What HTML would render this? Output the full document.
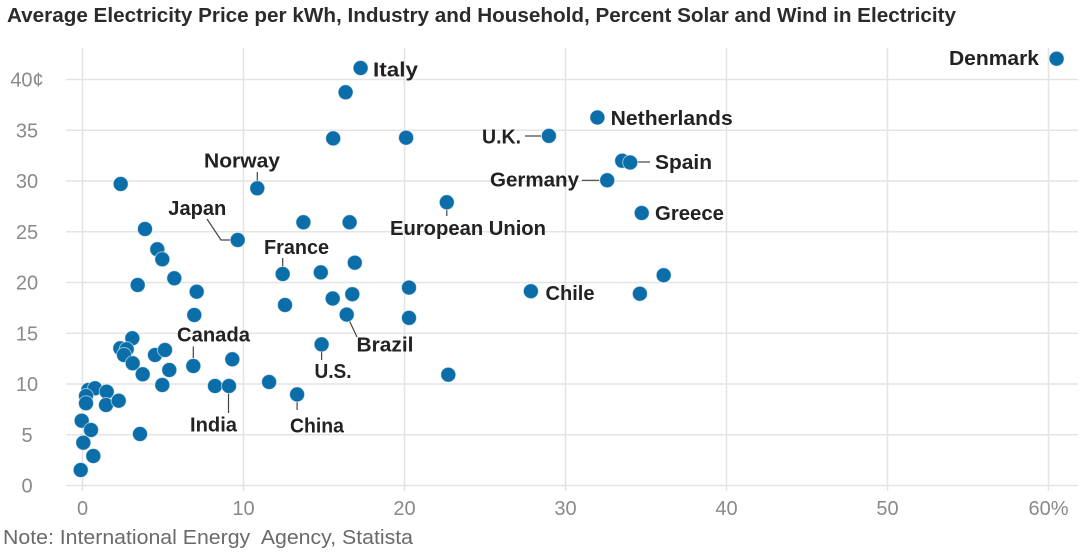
<!DOCTYPE html>
<html>
<head>
<meta charset="utf-8">
<style>
html,body{margin:0;padding:0;background:#fff;}
svg{display:block;}
text{font-family:"Liberation Sans",Arial,sans-serif;}
.t{font-size:20px;font-weight:bold;fill:#2b2b2b;}
.lb{font-size:20px;font-weight:bold;fill:#222;}
.tk{font-size:20px;fill:#8a8a8a;}
.nt{font-size:20px;fill:#6a6a6a;}
.g line{stroke:#e4e4e4;stroke-width:1.5;}
.d circle{fill:#0b6ea9;stroke:#ffffff;stroke-opacity:0.55;stroke-width:1;}
.ld{stroke:#444;stroke-width:1.2;fill:none;}
</style>
</head>
<body>
<svg width="1092" height="554" viewBox="0 0 1092 554" xmlns="http://www.w3.org/2000/svg">
<rect width="1092" height="554" fill="#fff"/>
<text class="t" x="7" y="22" textLength="949" lengthAdjust="spacingAndGlyphs">Average Electricity Price per kWh, Industry and Household, Percent Solar and Wind in Electricity</text>

<g class="g">
<line x1="66" y1="79.5" x2="1078" y2="79.5"/>
<line x1="66" y1="130.3" x2="1078" y2="130.3"/>
<line x1="66" y1="181" x2="1078" y2="181"/>
<line x1="66" y1="231.8" x2="1078" y2="231.8"/>
<line x1="66" y1="282.5" x2="1078" y2="282.5"/>
<line x1="66" y1="333.3" x2="1078" y2="333.3"/>
<line x1="66" y1="384" x2="1078" y2="384"/>
<line x1="66" y1="434.8" x2="1078" y2="434.8"/>
<line x1="66" y1="485.5" x2="1078" y2="485.5"/>
<line x1="82.5" y1="48" x2="82.5" y2="491"/>
<line x1="243.5" y1="48" x2="243.5" y2="491"/>
<line x1="404.5" y1="48" x2="404.5" y2="491"/>
<line x1="565.5" y1="48" x2="565.5" y2="491"/>
<line x1="726.5" y1="48" x2="726.5" y2="491"/>
<line x1="887.5" y1="48" x2="887.5" y2="491"/>
<line x1="1048.5" y1="48" x2="1048.5" y2="491"/>
</g>

<g text-anchor="middle">
<text class="tk" x="27" y="86.5">40¢</text>
<text class="tk" x="27" y="137.3">35</text>
<text class="tk" x="27" y="188">30</text>
<text class="tk" x="27" y="238.8">25</text>
<text class="tk" x="27" y="289.5">20</text>
<text class="tk" x="27" y="340.3">15</text>
<text class="tk" x="27" y="391">10</text>
<text class="tk" x="27" y="441.8">5</text>
<text class="tk" x="27" y="492.5">0</text>
<text class="tk" x="82.5" y="515">0</text>
<text class="tk" x="243.5" y="515">10</text>
<text class="tk" x="404.5" y="515">20</text>
<text class="tk" x="565.5" y="515">30</text>
<text class="tk" x="726.5" y="515">40</text>
<text class="tk" x="887.5" y="515">50</text>
<text class="tk" x="1048.5" y="515">60%</text>
</g>

<text class="nt" x="3" y="544" textLength="410" lengthAdjust="spacingAndGlyphs" style="white-space:pre">Note: International Energy  Agency, Statista</text>

<!-- leader lines -->
<line class="ld" x1="257.3" y1="172" x2="257.3" y2="181"/>
<polyline class="ld" points="207,219 221,240 231,240"/>
<line class="ld" x1="446.8" y1="209" x2="446.8" y2="216"/>
<line class="ld" x1="282.7" y1="258" x2="282.7" y2="267"/>
<line class="ld" x1="193.3" y1="346.5" x2="193.3" y2="358"/>
<line class="ld" x1="228.5" y1="393" x2="228.5" y2="413"/>
<line class="ld" x1="297.1" y1="401" x2="297.1" y2="410"/>
<line class="ld" x1="321.6" y1="351" x2="321.6" y2="360"/>
<line class="ld" x1="349" y1="320" x2="357" y2="337"/>
<line class="ld" x1="525" y1="136" x2="541" y2="136"/>
<line class="ld" x1="637" y1="162" x2="650" y2="162"/>
<line class="ld" x1="582" y1="180.3" x2="599" y2="180.3"/>

<g class="d">
<circle cx="120.7" cy="184" r="7.5"/>
<circle cx="257.3" cy="188.3" r="7.5"/>
<circle cx="145" cy="229" r="7.5"/>
<circle cx="157.3" cy="249.3" r="7.5"/>
<circle cx="162.3" cy="259.3" r="7.5"/>
<circle cx="137.7" cy="285" r="7.5"/>
<circle cx="174.3" cy="278.3" r="7.5"/>
<circle cx="196.7" cy="291.7" r="7.5"/>
<circle cx="194.3" cy="315" r="7.5"/>
<circle cx="237.7" cy="240" r="7.5"/>
<circle cx="282.7" cy="274" r="7.5"/>
<circle cx="285" cy="305" r="7.5"/>
<circle cx="303.4" cy="222.3" r="7.5"/>
<circle cx="132.3" cy="338.3" r="7.5"/>
<circle cx="120.3" cy="348.3" r="7.5"/>
<circle cx="126.7" cy="349.3" r="7.5"/>
<circle cx="124" cy="355" r="7.5"/>
<circle cx="132.7" cy="363.3" r="7.5"/>
<circle cx="142.7" cy="374.3" r="7.5"/>
<circle cx="155" cy="355" r="7.5"/>
<circle cx="165" cy="350" r="7.5"/>
<circle cx="169.3" cy="370" r="7.5"/>
<circle cx="162.3" cy="385" r="7.5"/>
<circle cx="193.3" cy="366" r="7.5"/>
<circle cx="232.3" cy="359.3" r="7.5"/>
<circle cx="215" cy="386" r="7.5"/>
<circle cx="229" cy="386" r="7.5"/>
<circle cx="88.3" cy="390" r="7.5"/>
<circle cx="95" cy="388.3" r="7.5"/>
<circle cx="86" cy="396" r="7.5"/>
<circle cx="106.7" cy="391.7" r="7.5"/>
<circle cx="106" cy="405" r="7.5"/>
<circle cx="118.7" cy="400.7" r="7.5"/>
<circle cx="86" cy="403.3" r="7.5"/>
<circle cx="81.7" cy="420.7" r="7.5"/>
<circle cx="91" cy="430" r="7.5"/>
<circle cx="83.3" cy="442.7" r="7.5"/>
<circle cx="93.3" cy="456" r="7.5"/>
<circle cx="80.7" cy="470" r="7.5"/>
<circle cx="140" cy="434" r="7.5"/>
<circle cx="360.6" cy="68" r="7.5"/>
<circle cx="345.6" cy="92.3" r="7.5"/>
<circle cx="333.2" cy="138.4" r="7.5"/>
<circle cx="406.1" cy="137.7" r="7.5"/>
<circle cx="349.6" cy="222.3" r="7.5"/>
<circle cx="446.8" cy="202.3" r="7.5"/>
<circle cx="320.8" cy="272.4" r="7.5"/>
<circle cx="354.8" cy="262.7" r="7.5"/>
<circle cx="332.7" cy="298.5" r="7.5"/>
<circle cx="352.3" cy="294.2" r="7.5"/>
<circle cx="346.7" cy="314.6" r="7.5"/>
<circle cx="409" cy="287.6" r="7.5"/>
<circle cx="409" cy="317.9" r="7.5"/>
<circle cx="530.9" cy="291.2" r="7.5"/>
<circle cx="663.7" cy="275.2" r="7.5"/>
<circle cx="639.9" cy="293.7" r="7.5"/>
<circle cx="448.3" cy="374.7" r="7.5"/>
<circle cx="321.6" cy="344.4" r="7.5"/>
<circle cx="269.1" cy="382" r="7.5"/>
<circle cx="297.1" cy="394.4" r="7.5"/>
<circle cx="1056.6" cy="58.7" r="7.5"/>
<circle cx="597.4" cy="117.5" r="7.5"/>
<circle cx="548.9" cy="135.9" r="7.5"/>
<circle cx="622.2" cy="160.8" r="7.5"/>
<circle cx="630.2" cy="162.5" r="7.5"/>
<circle cx="607.2" cy="180.3" r="7.5"/>
<circle cx="641.7" cy="213" r="7.5"/>
</g>

<g>
<text class="lb" x="373" y="76.5" textLength="45" lengthAdjust="spacingAndGlyphs">Italy</text>
<text class="lb" x="204" y="167.5" textLength="76" lengthAdjust="spacingAndGlyphs">Norway</text>
<text class="lb" x="168.3" y="215" textLength="58" lengthAdjust="spacingAndGlyphs">Japan</text>
<text class="lb" x="390" y="235" textLength="156" lengthAdjust="spacingAndGlyphs">European Union</text>
<text class="lb" x="264" y="254" textLength="65" lengthAdjust="spacingAndGlyphs">France</text>
<text class="lb" x="177" y="341.7" textLength="73" lengthAdjust="spacingAndGlyphs">Canada</text>
<text class="lb" x="190" y="431.7" textLength="47" lengthAdjust="spacingAndGlyphs">India</text>
<text class="lb" x="290" y="432.5" textLength="54" lengthAdjust="spacingAndGlyphs">China</text>
<text class="lb" x="314.5" y="378" textLength="37" lengthAdjust="spacingAndGlyphs">U.S.</text>
<text class="lb" x="356.5" y="351.5" textLength="57" lengthAdjust="spacingAndGlyphs">Brazil</text>
<text class="lb" x="545.5" y="300" textLength="49" lengthAdjust="spacingAndGlyphs">Chile</text>
<text class="lb" x="482" y="143.5" textLength="39" lengthAdjust="spacingAndGlyphs">U.K.</text>
<text class="lb" x="490" y="186.7" textLength="89" lengthAdjust="spacingAndGlyphs">Germany</text>
<text class="lb" x="610.7" y="125" textLength="122" lengthAdjust="spacingAndGlyphs">Netherlands</text>
<text class="lb" x="655" y="169" textLength="57" lengthAdjust="spacingAndGlyphs">Spain</text>
<text class="lb" x="655" y="220" textLength="69" lengthAdjust="spacingAndGlyphs">Greece</text>
<text class="lb" x="949" y="65" textLength="90" lengthAdjust="spacingAndGlyphs">Denmark</text>
</g>
</svg>
</body>
</html>
